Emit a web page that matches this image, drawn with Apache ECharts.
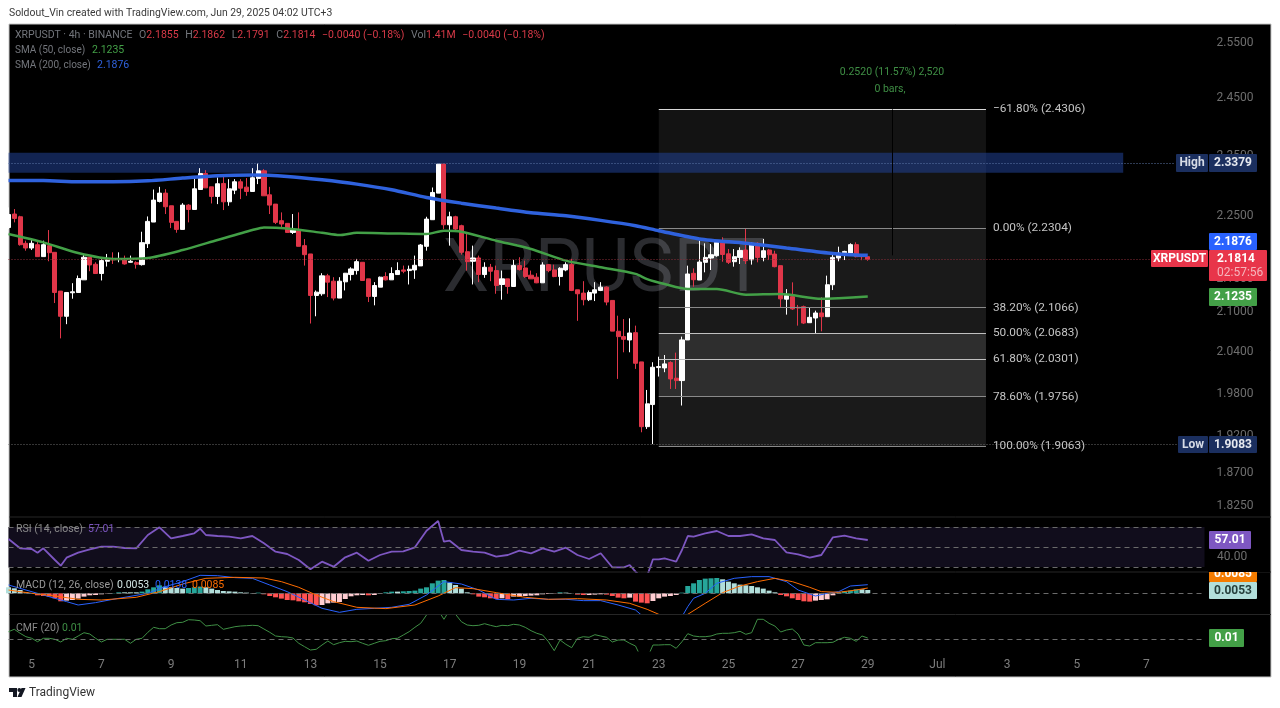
<!DOCTYPE html>
<html>
<head>
<meta charset="utf-8">
<title>XRPUSDT 4h</title>
<script src="https://cdn.jsdelivr.net/npm/echarts@6/dist/echarts.min.js"></script>
<style>
  html, body { margin: 0; padding: 0; background: #fff; }
  #main { width: 1280px; height: 708px; }
</style>
</head>
<body>
<div id="main"></div>
<script>
// 4h candles
const opens = [
  2.232,2.2538,2.2494,2.2067,2.1992,2.2045,2.1856,2.203,2.1924,2.1319,
  2.0935,2.1293,2.1298,2.1493,2.1846,2.1736,2.1591,2.1783,2.1815,2.181,
  2.182,2.1767,2.1762,2.173,2.2061,2.2408,2.2744,2.2881,2.2673,2.2419,
  2.229,2.2684,2.2613,2.2941,2.3208,2.2985,2.2826,2.3041,2.2738,2.293,
  2.3069,2.298,2.2908,2.3125,2.3252,2.2853,2.27,2.243,2.2387,2.2241,
  2.2268,2.203,2.1898,2.1252,2.1278,2.1555,2.1472,2.1212,2.1462,2.1575,
  2.1637,2.1767,2.1508,2.1237,2.138,2.1544,2.1493,2.1575,2.1647,2.1637,
  2.1647,2.171,2.2019,2.2446,2.2881,2.3365,2.2365,2.2494,2.2349,2.1934,
  2.1783,2.1835,2.1575,2.1689,2.1637,2.1421,2.1508,2.139,2.1715,2.1678,
  2.1565,2.1534,2.1447,2.173,2.1647,2.1544,2.1647,2.173,2.1339,2.1288,
  2.1187,2.1288,2.1329,2.138,2.1176,2.071,2.063,2.058,2.0689,2.0257,
  1.9332,1.9643,2.0174,2.0169,2.0247,2.002,1.9986,2.0581,2.1594,2.149,
  2.1766,2.1834,2.187,2.2083,2.19,2.1776,2.1844,2.196,2.1807,2.2067,
  2.1844,2.196,2.1896,2.1714,2.1195,2.1234,2.1071,2.1081,2.0838,2.0909,
  2.0985,2.0929,2.1417,2.1834,2.1917,2.1912,2.2046,2.187,2.1855
];
const closes = [
  2.253,2.2467,2.2045,2.1992,2.2067,2.1856,2.2045,2.1918,2.1298,2.0935,
  2.1298,2.1308,2.1513,2.1846,2.1725,2.1591,2.1793,2.1815,2.1805,2.1825,
  2.1741,2.1783,2.1736,2.2077,2.2419,2.2766,2.2881,2.2657,2.2403,2.229,
  2.2684,2.2613,2.2952,2.3208,2.2968,2.2826,2.3036,2.2738,2.2952,2.3069,
  2.2963,2.2908,2.3136,2.3252,2.2837,2.2684,2.2403,2.2376,2.2241,2.2279,
  2.2019,2.1887,2.1252,2.1303,2.1555,2.1457,2.1212,2.1472,2.1596,2.1663,
  2.1777,2.1483,2.1237,2.1405,2.1534,2.1493,2.1591,2.1637,2.1627,2.1658,
  2.172,2.204,2.2456,2.2892,2.3365,2.2365,2.2494,2.2295,2.1924,2.1777,
  2.1835,2.1575,2.1689,2.1627,2.1405,2.1508,2.139,2.1715,2.1653,2.1544,
  2.1508,2.1447,2.1725,2.1637,2.1544,2.1673,2.173,2.1329,2.1278,2.1187,
  2.1298,2.1339,2.138,2.1151,2.0712,2.063,2.059,2.0684,2.0237,1.9332,
  1.9653,2.0179,2.0189,2.0228,2.001,1.9986,2.0581,2.1584,2.1495,2.1771,
  2.1844,2.1886,2.2083,2.189,2.1766,2.1855,2.1954,2.1792,2.2067,2.1844,
  2.1949,2.1886,2.1698,2.12,2.125,2.1046,2.106,2.0833,2.0919,2.0985,
  2.0929,2.1417,2.1844,2.1912,2.1938,2.2046,2.1855,2.1855,2.1814
];
const lows = [
  2.2295,2.2403,2.203,2.195,2.196,2.1856,2.1856,2.1783,2.1136,2.0604,
  2.0816,2.1202,2.1298,2.1493,2.1627,2.1591,2.1483,2.17,2.1741,2.1767,
  2.173,2.1762,2.1668,2.1715,2.1992,2.2408,2.2727,2.2538,2.2311,2.2236,
  2.229,2.2403,2.2613,2.2941,2.2968,2.2711,2.27,2.2603,2.2673,2.2864,
  2.2782,2.2837,2.2908,2.303,2.2837,2.2538,2.2376,2.2311,2.2241,2.2215,
  2.2019,2.1715,2.0826,2.0935,2.1247,2.1227,2.1176,2.1212,2.1329,2.1483,
  2.1575,2.1483,2.1151,2.1101,2.138,2.1483,2.1493,2.1575,2.1596,2.1421,
  2.1508,2.171,2.195,2.2446,2.2881,2.2295,2.203,2.2268,2.1887,2.1637,
  2.1421,2.1457,2.1524,2.1472,2.1278,2.1187,2.1278,2.139,2.1637,2.1524,
  2.1508,2.1441,2.1447,2.1611,2.1534,2.1405,2.1627,2.1319,2.0866,2.1101,
  2.1166,2.1166,2.1319,2.1101,2.0712,2.001,2.0398,2.0398,2.0155,1.9254,
  1.93,1.909,2.0044,2.0107,1.9865,1.9865,1.9629,2.0581,2.1386,2.149,
  2.161,2.1646,2.1855,2.1776,2.174,2.1698,2.174,2.174,2.173,2.1766,
  2.1782,2.1802,2.1688,2.1071,2.096,2.1031,2.0794,2.0818,2.0838,2.0678,
  2.0709,2.0929,2.1335,2.1782,2.1802,2.1896,2.1844,2.18,2.1791
];
const highs = [
  2.2646,2.2619,2.251,2.2109,2.212,2.2109,2.2109,2.2279,2.1924,2.1319,
  2.1298,2.1441,2.156,2.1887,2.1846,2.1767,2.1835,2.1898,2.1924,2.1924,
  2.1872,2.1872,2.1783,2.2252,2.2499,2.2941,2.2985,2.2947,2.2673,2.2419,
  2.2716,2.27,2.3141,2.3297,2.3263,2.2985,2.3141,2.3185,2.3113,2.3113,
  2.3113,2.313,2.3297,2.3376,2.328,2.2985,2.27,2.2565,2.2387,2.2538,
  2.2565,2.2135,2.1898,2.1329,2.1596,2.1586,2.1534,2.1534,2.1596,2.1689,
  2.182,2.1767,2.1508,2.1457,2.1544,2.1611,2.1689,2.1767,2.1715,2.1715,
  2.1872,2.2056,2.2494,2.2974,2.3365,2.3365,2.2576,2.251,2.2365,2.2241,
  2.203,2.1872,2.1767,2.1741,2.1715,2.1637,2.1508,2.1805,2.1846,2.1793,
  2.1637,2.1596,2.1767,2.1741,2.173,2.1689,2.1767,2.182,2.1339,2.1472,
  2.1329,2.1457,2.1457,2.139,2.1176,2.0944,2.0893,2.0904,2.0794,2.0257,
  1.9851,2.0252,2.0333,2.0358,2.0267,2.0393,2.063,2.1714,2.1672,2.211,
  2.2067,2.2056,2.212,2.2163,2.1976,2.1976,2.2003,2.2311,2.2083,2.2083,
  2.2137,2.1976,2.1949,2.1714,2.135,2.1454,2.1107,2.1097,2.1071,2.102,
  2.1224,2.1558,2.1923,2.2014,2.1949,2.2067,2.2083,2.189,2.1862
];

// moving averages, read at these bars
const sma200Bars = [0,6,12,18,24,30,36,42,48,54,60,66,72,78,84,90,96,102,108,112,119,127,134,142,148];
const sma200Values = [2.309,2.309,2.3069,2.3069,2.3085,2.313,2.3169,2.318,2.3158,2.3102,2.303,2.2936,2.281,2.2716,2.2635,2.256,2.251,2.2435,2.2349,2.2269,2.2137,2.2067,2.1993,2.1907,2.1876];
const sma50Bars = [0,6,12,18,24,30,36,42,44,48,54,57,60,66,72,75,78,84,90,96,102,108,110,113,117,122,127,133,140,143,148];
const sma50Values = [2.2215,2.2082,2.1914,2.182,2.1835,2.196,2.212,2.2279,2.2322,2.2306,2.2236,2.2199,2.2236,2.2225,2.2215,2.2268,2.2252,2.2109,2.1976,2.1793,2.1689,2.1586,2.1505,2.1428,2.135,2.135,2.1264,2.1274,2.12,2.121,2.1235];

// RSI (14)
const rsiBars = [0,2,4,5,6,8,9,10,12,14,16,18,20,22,24,26,28,30,32,33,34,36,38,40,42,44,46,48,50,52,54,56,58,60,62,64,66,68,70,72,74,75,76,78,80,82,84,86,88,90,92,94,96,98,100,102,104,106,107,108,109,110,111,112,113,114,115,116,117,118,120,122,124,126,128,130,132,134,136,138,140,142,144,146,148];
const rsiValues = [58,48.7,48,44.3,48.7,37,31.3,39.3,44.3,47.7,50.3,50.3,49,48.7,62,69.7,58.7,61,63.7,68.3,62,61,60.3,58.7,61,53.7,45.3,43,37,27.7,35.3,30.3,39.7,44.3,36.3,42,45.3,45.7,49.7,66.3,76,55.3,56.3,47,45.3,44.3,40.3,42,46.3,43.7,48.7,45.3,49.3,42,38,43.7,29.7,29.7,32,25.3,20,21,37.7,37.7,38.7,37,35.3,47,61,60.3,63.7,66,61,61,62.7,58.7,57,44.7,42.7,39.3,42,59.7,61.3,58.7,57.01];

// MACD (12, 26, close)
const macdBars = [0,6,10,12,15,18,24,27,30,33,36,39,42,45,48,51,54,57,60,63,66,69,72,75,78,81,84,87,90,93,96,99,102,105,108,110,113,115,116,117,118,120,122,125,128,131,134,136,139,141,143,145,148];
const macdValues = [0.0133,-0.0027,-0.0133,-0.0187,-0.0149,-0.0096,0,0.0107,0.0187,0.0288,0.0282,0.0251,0.024,0.0133,0.0027,-0.0107,-0.024,-0.0304,-0.0256,-0.024,-0.0224,-0.0176,-0.0027,0.0187,0.0149,0.0053,-0.0096,-0.0107,-0.008,-0.0096,-0.0096,-0.0117,-0.0117,-0.0187,-0.0267,-0.0426,-0.0586,-0.048,-0.0373,-0.0213,-0.008,0,0.016,0.024,0.0267,0.0267,0.0187,0.0053,-0.0043,0,0.0027,0.0117,0.0138];
const signalBars = [0,4,8,12,16,22,26,30,34,39,44,47,50,53,56,60,65,70,74,77,80,84,89,93,98,103,107,110,112,115,117,120,123,126,129,132,135,138,140,143,146,148];
const signalValues = [0.0053,0,-0.0043,-0.0096,-0.0107,-0.0064,0.0027,0.0149,0.024,0.0256,0.0245,0.0187,0.0096,-0.0027,-0.0133,-0.0224,-0.0245,-0.0187,-0.0043,0.0091,0.0075,0.0011,-0.0064,-0.0096,-0.0085,-0.0107,-0.016,-0.0256,-0.0336,-0.04,-0.0336,-0.016,0.0011,0.0117,0.0187,0.024,0.0187,0.0096,0.0027,0.0016,0.0053,0.0085];
const histValues = [
  0.0096,0.008,0.0053,0.0016,0.0005,-0.0032,-0.0043,-0.0053,-0.008,-0.0128,
  -0.0117,-0.0107,-0.0085,-0.0053,-0.0032,-0.0027,-0.0016,-0.0005,0.0005,0.0016,
  0.0016,0.0016,0.0016,0.0027,0.0064,0.0096,0.0128,0.0107,0.0096,0.0085,
  0.0075,0.0085,0.0096,0.0107,0.0096,0.0075,0.0053,0.0037,0.0032,0.0027,
  0.0016,0.0011,0.0005,0.0011,-0.0016,-0.0043,-0.0064,-0.0085,-0.0107,-0.0112,
  -0.0128,-0.0144,-0.0171,-0.0192,-0.0187,-0.016,-0.0149,-0.0139,-0.0091,-0.0048,
  -0.0032,-0.0027,-0.0032,-0.0027,-0.0005,0.0016,0.0027,0.0027,0.0032,0.0037,
  0.0043,0.0075,0.0096,0.016,0.0203,0.0213,0.0171,0.0133,0.0075,0.0016,
  -0.0016,-0.0053,-0.0064,-0.008,-0.0091,-0.008,-0.0096,-0.0053,-0.0053,-0.0043,
  -0.0037,-0.0032,-0.0016,-0.0011,-0.0005,0.0016,0.0011,0.0003,-0.0021,-0.0027,
  -0.0027,-0.0021,-0.0016,-0.0021,-0.0043,-0.0069,-0.008,-0.0069,-0.0133,-0.0149,
  -0.016,-0.0123,-0.008,-0.0053,-0.0043,-0.0027,0.0011,0.0117,0.016,0.0213,
  0.0235,0.024,0.0245,0.0224,0.0187,0.016,0.0139,0.0128,0.0117,0.0096,
  0.0075,0.0043,0.0016,-0.0027,-0.0048,-0.008,-0.0107,-0.0128,-0.0133,-0.0117,
  -0.0107,-0.0096,-0.0032,0.0016,0.0032,0.0043,0.0064,0.0064,0.0053
];

// CMF (20)
const cmfValues = [
  0.073,0.097,0.057,0.023,0.007,-0.027,0.007,0.007,-0.003,-0.03,
  0.007,-0.003,0.03,0.063,0.05,0.007,-0.03,-0.003,-0.003,-0.003,
  -0.003,-0.043,-0.003,0.007,0.067,0.117,0.103,0.103,0.14,0.163,
  0.167,0.193,0.19,0.183,0.13,0.137,0.143,0.097,0.11,0.123,
  0.13,0.133,0.137,0.133,0.1,0.067,0.03,0.023,0.02,0.01,
  -0.043,-0.077,-0.11,-0.103,-0.06,-0.02,-0.057,-0.037,-0.023,-0.027,
  -0.02,-0.043,-0.063,-0.043,-0.023,-0.017,0.003,0.007,0.04,0.073,
  0.117,0.157,0.24,0.323,0.29,0.197,0.29,0.247,0.173,0.14,
  0.133,0.137,0.153,0.137,0.123,0.137,0.133,0.147,0.14,0.117,
  0.083,0.057,0.04,-0.027,-0.117,-0.01,-0.053,-0.087,0.007,0.023,
  0.017,0.043,0.03,0.017,-0.03,-0.01,-0.01,-0.043,-0.07,-0.193,
  -0.193,-0.06,-0.06,-0.057,-0.057,-0.093,-0.027,0.053,0.03,0.023,
  0.023,0.03,0.05,0.057,0.057,0.063,0.077,0.047,0.063,0.197,
  0.197,0.157,0.13,0.07,0.09,0.1,0.05,-0.06,-0.07,-0.037,
  -0.037,-0.037,-0.033,-0.003,0.017,0.007,-0.023,0.03,0.01
];

// axis labels
const dayLabels = ['5','7','9','11','13','15','17','19','21','23','25','27','29','Jul','3','5','7'];
const priceTicks = [2.55,2.45,2.35,2.25,2.15,2.1,2.04,1.98,1.92,1.87,1.825];

// fib retracement
const fibLevels = ['\u221261.80%','0.00%','38.20%','50.00%','61.80%','78.60%','100.00%'];
const fibPrices = [2.4306,2.2304,2.1066,2.0683,2.0301,1.9756,1.9063];
const fibFills = [0.075,0.1,0.1,0.18,0.18,0.1];
const fibLineColors = ['#d8d8d8','#8a8a8a','#8a8a8a','#c0c0c0','#c0c0c0','#8a8a8a','#8a8a8a'];

const highPrice = 2.3379, lowPrice = 1.9083, lastPrice = 2.1814;

const FONT = 'Roboto, "Open Sans", sans-serif';
const barCount = 207;
const fibStart = 112, fibEnd = 168.36, zoneEnd = 192;
const categories = Array.from({ length: barCount }, (_, k) =>
  k >= 4 && (k - 4) % 12 === 0 ? dayLabels[(k - 4) / 12] : '');
const zip = (a, b) => a.map((v, i) => [v, b[i]]);

const candles = opens.map((o, i) => [o, closes[i], lows[i], highs[i]]);

// macd histogram colours follow the change from the previous bar
const histData = histValues.map((v, i) => {
  const prev = i ? histValues[i - 1] : v;
  let color;
  if (v >= 0) color = v > prev ? '#26a69a' : '#b2dfdb';
  else color = v < prev ? '#ff5252' : '#ffcdd2';
  return { value: v, itemStyle: { color: color } };
});

const grids = [
  { left: 8.5, width: 1196, top: 24, height: 493 },
  { left: 8.5, width: 1196, top: 517, height: 55 },
  { left: 8.5, width: 1196, top: 572, height: 42 },
  { left: 8.5, width: 1196, top: 614.5, height: 36.5 }
];

const xAxes = grids.map((g, i) => ({
  type: 'category',
  gridIndex: i,
  data: categories,
  boundaryGap: false,
  axisLine: { show: false },
  axisTick: { show: false },
  splitLine: { show: false },
  axisLabel: i === 3
    ? { show: true, interval: 0, color: '#7d7d7d', fontFamily: FONT, fontSize: 12, margin: 8 }
    : { show: false }
}));
// same bars as a plain number scale, so the drawing tools can sit between bars
const TOOL_X = xAxes.length;
xAxes.push({ type: 'value', gridIndex: 0, min: 0, max: barCount - 1, show: false });

const yAxes = [
  {
    type: 'log', gridIndex: 0, position: 'right', logBase: 10, min: 1.8112, max: 2.5851,
    axisLine: { show: false }, axisTick: { show: false }, splitLine: { show: false },
    axisLabel: {
      customValues: priceTicks, margin: 12, color: '#6e6e6e', fontFamily: FONT, fontSize: 12,
      formatter: (v) => Number(v).toFixed(4)
    }
  },
  {
    type: 'value', gridIndex: 1, position: 'right', min: 25, max: 80,
    axisLine: { show: false }, axisTick: { show: false }, splitLine: { show: false },
    axisLabel: { customValues: [40], margin: 12, color: '#6e6e6e', fontFamily: FONT, fontSize: 12,
      formatter: (v) => Number(v).toFixed(2) }
  },
  { type: 'value', gridIndex: 2, min: -0.0331, max: 0.0341, show: false },
  { type: 'value', gridIndex: 3, min: -0.12, max: 0.245, show: false }
];

const priceLine = (price, end, color) => ({
  silent: true, symbol: 'none',
  lineStyle: { color: color, type: [1, 2], width: 1 },
  label: { show: false },
  data: [[{ xAxis: 0, yAxis: price }, { xAxis: end, yAxis: price }]]
});

const series = [
  // fib box, behind everything
  {
    type: 'line', xAxisIndex: TOOL_X, yAxisIndex: 0, z: 1, data: [], silent: true,
    markArea: {
      silent: true,
      data: fibFills.map((a, i) => [
        { xAxis: fibStart, yAxis: fibPrices[i], itemStyle: { color: 'rgba(255,255,255,' + a + ')' } },
        { xAxis: fibEnd, yAxis: fibPrices[i + 1] }
      ])
    },
    markLine: {
      silent: true, symbol: 'none',
      data: fibPrices.map((p, i) => [
        {
          xAxis: fibStart, yAxis: p,
          lineStyle: { color: fibLineColors[i], width: 1, type: 'solid' },
          label: {
            show: true, position: 'end', distance: 7, color: '#c4c4c4', fontFamily: FONT, fontSize: 11.8,
            formatter: fibLevels[i] + ' (' + p.toFixed(4) + ')'
          }
        },
        { xAxis: fibEnd, yAxis: p }
      ])
    }
  },
  // supply zone around the high
  {
    type: 'line', xAxisIndex: TOOL_X, yAxisIndex: 0, z: 2, data: [], silent: true,
    markArea: {
      silent: true,
      itemStyle: { color: 'rgba(32,66,150,0.55)' },
      data: [[{ xAxis: 0, yAxis: 2.3556 }, { xAxis: zoneEnd, yAxis: 2.3218 }]]
    },
    markLine: priceLine(highPrice, 201, '#5c77a8')
  },
  { type: 'line', xAxisIndex: TOOL_X, yAxisIndex: 0, z: 2, data: [], silent: true, markLine: priceLine(lowPrice, 201.5, '#6a6a6a') },
  { type: 'line', xAxisIndex: TOOL_X, yAxisIndex: 0, z: 2, data: [], silent: true, markLine: priceLine(lastPrice, 197, '#8a2c38') },
  // measure tool line
  {
    type: 'line', xAxisIndex: TOOL_X, yAxisIndex: 0, z: 2, data: [], silent: true,
    markLine: {
      silent: true, symbol: 'none', label: { show: false },
      lineStyle: { color: '#000', width: 1, type: 'solid' },
      data: [[{ xAxis: 152.3, yAxis: 2.4306 }, { xAxis: 152.3, yAxis: 2.1876 }]]
    }
  },
  {
    name: 'XRPUSDT', type: 'candlestick', xAxisIndex: 0, yAxisIndex: 0, z: 3,
    data: candles, barWidth: 4.6, silent: true,
    itemStyle: { color: '#ffffff', color0: '#e03649', borderColor: '#ffffff', borderColor0: '#e03649', borderWidth: 1 }
  },
  {
    name: 'SMA 200', type: 'line', xAxisIndex: 0, yAxisIndex: 0, z: 4, data: zip(sma200Bars, sma200Values),
    showSymbol: false, smooth: 0.25, lineStyle: { color: '#2f62dd', width: 3.5 }, silent: true
  },
  {
    name: 'SMA 50', type: 'line', xAxisIndex: 0, yAxisIndex: 0, z: 4, data: zip(sma50Bars, sma50Values),
    showSymbol: false, smooth: 0.25, lineStyle: { color: '#43a047', width: 2.5 }, silent: true
  },
  {
    name: 'RSI', type: 'line', xAxisIndex: 1, yAxisIndex: 1, z: 3, data: zip(rsiBars, rsiValues),
    showSymbol: false, lineStyle: { color: '#7e57c2', width: 1.8 }, silent: true,
    markArea: { silent: true, itemStyle: { color: '#110d1c' }, data: [[{ yAxis: 70 }, { yAxis: 30 }]] },
    markLine: {
      silent: true, symbol: 'none', label: { show: false },
      lineStyle: { color: '#6a6a6a', type: [5, 4], width: 1 },
      data: [{ yAxis: 70 }, { yAxis: 50 }, { yAxis: 30 }]
    }
  },
  {
    name: 'Histogram', type: 'bar', xAxisIndex: 2, yAxisIndex: 2, z: 2, data: histData, barWidth: 5, silent: true,
    markLine: {
      silent: true, symbol: 'none', label: { show: false },
      lineStyle: { color: '#6a6a6a', type: [5, 4], width: 1 },
      data: [{ yAxis: 0 }]
    }
  },
  {
    name: 'MACD', type: 'line', xAxisIndex: 2, yAxisIndex: 2, z: 3, data: zip(macdBars, macdValues),
    showSymbol: false, lineStyle: { color: '#2962ff', width: 1 }, silent: true
  },
  {
    name: 'Signal', type: 'line', xAxisIndex: 2, yAxisIndex: 2, z: 3, data: zip(signalBars, signalValues),
    showSymbol: false, lineStyle: { color: '#ff6d00', width: 1 }, silent: true
  },
  {
    name: 'CMF', type: 'line', xAxisIndex: 3, yAxisIndex: 3, z: 3, data: cmfValues,
    showSymbol: false, lineStyle: { color: '#3f8f45', width: 1 }, silent: true,
    markLine: {
      silent: true, symbol: 'none', label: { show: false },
      lineStyle: { color: '#6a6a6a', type: [5, 4], width: 1 },
      data: [{ yAxis: 0 }]
    }
  }
];

// plain text + tag helpers
const label = (x, y, text, fill, size, extra) => ({
  type: 'text', x: x, y: y, z: 50, silent: true,
  style: Object.assign({ text: text, fill: fill, font: (size || 11) + 'px ' + FONT, textVerticalAlign: 'middle' }, extra || {})
});
const tag = (x, y, w, h, bg, text, fg) => [
  { type: 'rect', z: 100, silent: true, shape: { x: x, y: y, width: w, height: h, r: 1 }, style: { fill: bg } },
  { type: 'text', z: 101, x: x + w / 2, y: y + h / 2, silent: true,
    style: { text: text, fill: fg, font: 'bold 12px ' + FONT, textAlign: 'center', textVerticalAlign: 'middle' } }
];

const legendRich = {
  g: { fill: '#73767c', fontFamily: FONT, fontSize: 10.5 },
  r: { fill: '#d83a48', fontFamily: FONT, fontSize: 10.5 }
};

const graphic = [
  { type: 'rect', z: -1, silent: true, shape: { x: 9, y: 24, width: 1262, height: 653 }, style: { fill: '#000', stroke: '#c6c6c6', lineWidth: 1 } },
  // watermark
  { type: 'text', z: 0, x: 604, y: 272, silent: true,
    style: { text: 'XRPUSDT', fill: '#2b2c30', font: '74px ' + FONT, textAlign: 'center', textVerticalAlign: 'middle' } },
  // pane separators
  { type: 'line', z: 5, silent: true, shape: { x1: 9.5, y1: 517, x2: 1271, y2: 517 }, style: { stroke: '#262626', lineWidth: 1 } },
  { type: 'line', z: 5, silent: true, shape: { x1: 9.5, y1: 572, x2: 1271, y2: 572 }, style: { stroke: '#262626', lineWidth: 1 } },
  { type: 'line', z: 5, silent: true, shape: { x1: 9.5, y1: 614.5, x2: 1271, y2: 614.5 }, style: { stroke: '#262626', lineWidth: 1 } },

  label(9, 13, 'Soldout_Vin created with TradingView.com, Jun 29, 2025 04:02 UTC+3', '#3a3a3a', 10.4),
  label(29, 693, 'TradingView', '#333', 12),
  // tradingview mark
  { type: 'polygon', z: 50, silent: true, shape: { points: [[9,688],[17,688],[17,697],[13,697],[13,692],[9,692]] }, style: { fill: '#131722' } },
  { type: 'circle', z: 50, silent: true, shape: { cx: 19.3, cy: 690, r: 1.9 }, style: { fill: '#131722' } },
  { type: 'polygon', z: 50, silent: true, shape: { points: [[21.5,688],[25.5,688],[21.5,697],[17.5,697]] }, style: { fill: '#131722' } },

  // main legend
  { type: 'text', z: 50, x: 15, y: 35, silent: true,
    style: {
      text: '{g|XRPUSDT \u00b7 4h \u00b7 BINANCE}  {g|O}{r|2.1855}  {g|H}{r|2.1862}  {g|L}{r|2.1791}  {g|C}{r|2.1814}  {r|\u22120.0040 (\u22120.18%)}  {g|Vol}{r|1.41M}  {r|\u22120.0040 (\u22120.18%)}',
      rich: legendRich, textVerticalAlign: 'middle'
    } },
  label(15, 50, 'SMA (50, close)', '#73767c', 10),
  label(92, 50, '2.1235', '#43a047', 10.5),
  label(15, 65, 'SMA (200, close)', '#73767c', 10),
  label(97, 65, '2.1876', '#2f62dd', 10.5),

  // measure label
  label(892, 72, '0.2520 (11.57%) 2,520', '#3f8f45', 10.5, { textAlign: 'center' }),
  label(890, 89, '0 bars,', '#3f8f45', 10.5, { textAlign: 'center' }),

  // pane legends
  label(16, 529, 'RSI (14, close)', '#8a8a8a', 10.5),
  label(88, 529, '57.01', '#7e57c2', 10.5),
  label(16, 585, 'MACD (12, 26, close)', '#9a9a9a', 10.5),
  label(117, 585, '0.0053', '#d5e8e6', 10.5),
  label(155, 585, '0.0138', '#2962ff', 10.5),
  label(192, 585, '0.0085', '#ff6d00', 10.5),
  label(16, 628, 'CMF (20)', '#8a8a8a', 10.5),
  label(62, 628, '0.01', '#3f8f45', 10.5),

  ...tag(1176, 154, 32, 18, '#1b2f5f', 'High', '#d6dbe6'),
  ...tag(1209, 154, 48, 18, '#1b2f5f', '2.3379', '#e6e9f0'),
  ...tag(1209, 233, 48, 17, '#2962ff', '2.1876', '#fff'),
  ...tag(1151, 250, 57, 17, '#e8354a', 'XRPUSDT', '#fff'),
  ...tag(1209, 288, 48, 18, '#43a047', '2.1235', '#fff'),
  ...tag(1178, 436, 30, 17, '#1b2f5f', 'Low', '#d6dbe6'),
  ...tag(1209, 436, 48, 17, '#1b2f5f', '1.9083', '#e6e9f0'),
  // last price tag with countdown
  { type: 'rect', z: 100, silent: true, shape: { x: 1209, y: 250, width: 58, height: 31, r: 1 }, style: { fill: '#e8354a' } },
  Object.assign(label(1217, 259, '2.1814', '#fff', 12, { font: 'bold 12px ' + FONT }), { z: 101 }),
  Object.assign(label(1217, 273, '02:57:56', '#f5b5bc', 12), { z: 101 }),
  // oscillator tags; the orange one is cut by the pane edge
  ...tag(1209, 565, 48, 17, '#f57c00', '0.0085', '#fff'),
  { type: 'rect', z: 102, silent: true, shape: { x: 1208, y: 550, width: 62, height: 22 }, style: { fill: '#000' } },
  { type: 'text', z: 103, x: 1217, y: 557, silent: true, style: { text: '40.00', fill: '#6e6e6e', font: '12px ' + FONT, textVerticalAlign: 'middle' } },
  ...tag(1209, 531, 42, 18, '#7e57c2', '57.01', '#fff'),
  ...tag(1209, 582, 48, 17, '#b2dfdb', '0.0053', '#26403d'),
  ...tag(1209, 629, 35, 18, '#43a047', '0.01', '#fff')
];

const chart = echarts.init(document.getElementById('main'));
chart.setOption({
  animation: false,
  backgroundColor: '#ffffff',
  tooltip: { show: false },
  grid: grids,
  xAxis: xAxes,
  yAxis: yAxes,
  series: series,
  graphic: graphic
});
</script>
</body>
</html>
